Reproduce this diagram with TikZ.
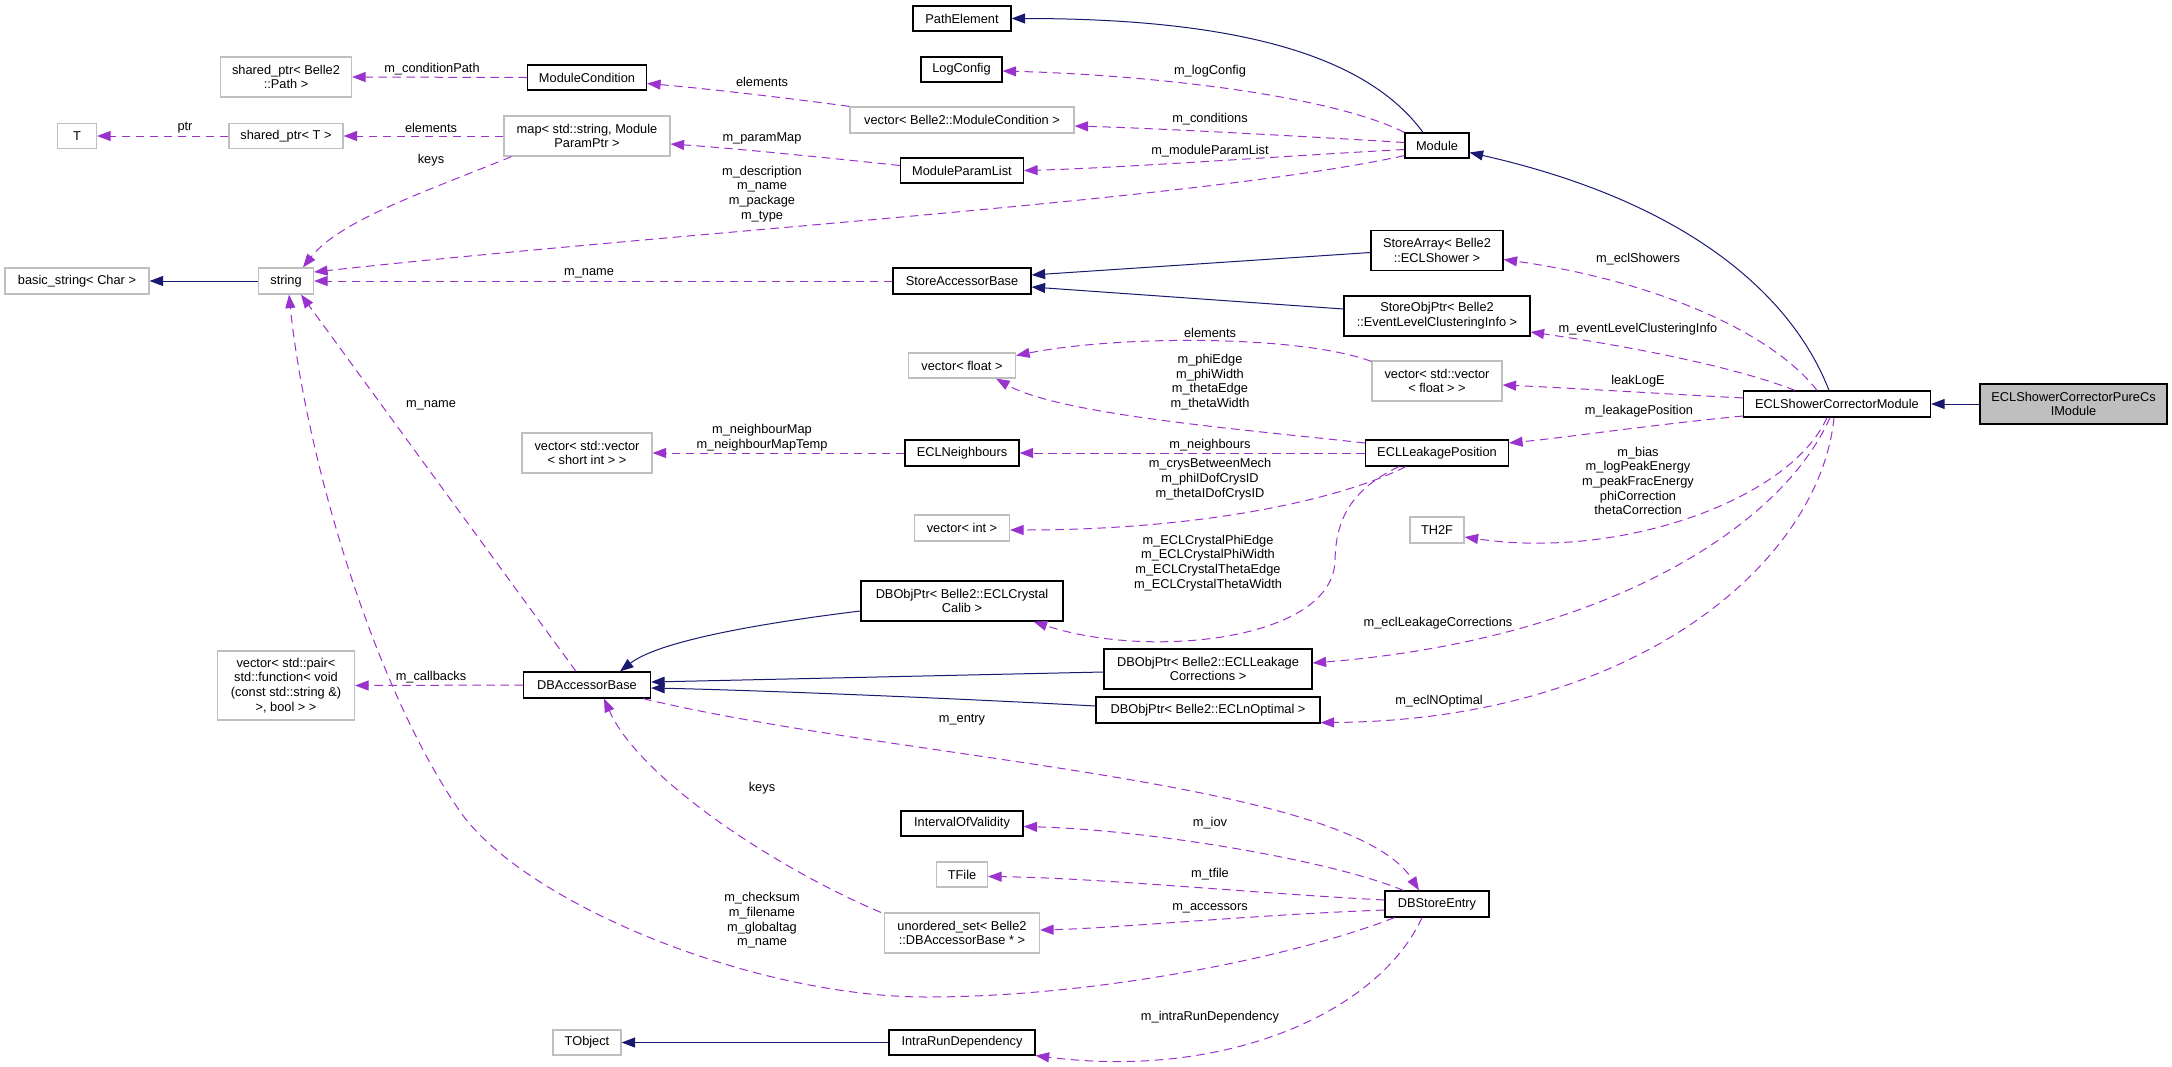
\documentclass[tikz,border=0pt]{standalone}
\usepackage{fontspec}
\setmainfont{Liberation Sans}
\usetikzlibrary{arrows.meta,calc}
\definecolor{usecol}{HTML}{9A32CD}
\definecolor{inhcol}{HTML}{191970}
\definecolor{gbord}{HTML}{BFBFBF}
\begin{document}
\begin{tikzpicture}[x=1pt,y=-1pt,
  every node/.style={font=\fontsize{12.8}{14.7}\selectfont, inner sep=0pt, align=center},
  cls/.style={draw=black, fill=white, line width=1.2pt, minimum height=25pt},
  ext/.style={draw=gbord, fill=white, line width=1.2pt, minimum height=25pt},
  mainc/.style={draw=black, fill=gbord, line width=1.2pt},
  use/.style={draw=usecol, line width=1pt, dash pattern=on 8.5pt off 5.5pt, -{Triangle[length=13.5pt,width=10pt]}},
  inh/.style={draw=inhcol, line width=1pt, -{Triangle[length=13.5pt,width=10pt]}}]
\fill[white] (0,0) rectangle (2172,1066);
\useasboundingbox (0,0) rectangle (2172,1066);

% ---------- nodes ----------
\node[cls, minimum width=98pt] (pe) at (962,18.5) {PathElement};
\node[cls, minimum width=81pt] (lc) at (961.5,69.5) {LogConfig};
\node[ext, minimum width=224pt, minimum height=26pt] (vmc) at (962,120) {vector< Belle2::ModuleCondition >};
\node[cls, minimum width=123pt] (mpl) at (962,170.5) {ModuleParamList};
\node[cls, minimum width=64pt] (mod) at (1437,145.5) {Module};
\node[ext, minimum width=131pt, minimum height=40pt] (spp) at (286,77) {shared\_ptr< Belle2\\::Path >};
\node[cls, minimum width=119pt] (mc) at (587,77.5) {ModuleCondition};
\node[ext, minimum width=39pt] (tt) at (77,136) {T};
\node[ext, minimum width=114pt] (spt) at (286,136) {shared\_ptr< T >};
\node[ext, minimum width=166pt, minimum height=40pt] (map) at (587,136) {map< std::string, Module\\ParamPtr >};
\node[ext, minimum width=144pt, minimum height=26pt] (bstr) at (77,281) {basic\_string< Char >};
\node[ext, minimum width=55pt, minimum height=26pt] (str) at (286,281) {string};
\node[cls, minimum width=138pt, minimum height=26pt] (sab) at (962,281) {StoreAccessorBase};
\node[cls, minimum width=132pt, minimum height=40pt] (sa) at (1437,250.5) {StoreArray< Belle2\\::ECLShower >};
\node[cls, minimum width=186pt, minimum height=40pt] (sop) at (1437,316) {StoreObjPtr< Belle2\\::EventLevelClusteringInfo >};
\node[ext, minimum width=107pt] (vf) at (962,365.5) {vector< float >};
\node[ext, minimum width=130pt, minimum height=40pt] (vvf) at (1437,381) {vector< std::vector\\< float > >};
\node[cls, minimum width=114pt, minimum height=26pt] (ecln) at (962,453) {ECLNeighbours};
\node[ext, minimum width=130pt, minimum height=40pt] (vvs) at (587,453) {vector< std::vector\\< short int > >};
\node[cls, minimum width=143pt, minimum height=26pt] (elp) at (1437,453) {ECLLeakagePosition};
\node[ext, minimum width=95pt, minimum height=26pt] (vi) at (962,528) {vector< int >};
\node[ext, minimum width=54pt, minimum height=26pt] (th) at (1437,530) {TH2F};
\node[cls, minimum width=187pt, minimum height=26pt] (escm) at (1837,404) {ECLShowerCorrectorModule};
\node[mainc, minimum width=187pt, minimum height=40pt] (pure) at (2073.5,404) {ECLShowerCorrectorPureCs\\IModule};
\node[cls, minimum width=202pt, minimum height=40pt] (dbcc) at (962,601) {DBObjPtr< Belle2::ECLCrystal\\Calib >};
\node[cls, minimum width=208pt, minimum height=40pt] (dblc) at (1208,669) {DBObjPtr< Belle2::ECLLeakage\\Corrections >};
\node[cls, minimum width=224pt, minimum height=26pt] (dbno) at (1208,710) {DBObjPtr< Belle2::ECLnOptimal >};
\node[cls, minimum width=127pt, minimum height=26pt] (dba) at (587,685) {DBAccessorBase};
\node[ext, minimum width=137pt, minimum height=69pt] (vpair) at (286,685.5) {vector< std::pair<\\std::function< void\\(const std::string \&)\\>, bool > >};
\node[cls, minimum width=122pt] (iov) at (962,823.5) {IntervalOfValidity};
\node[ext, minimum width=51pt] (tfile) at (962,874.5) {TFile};
\node[ext, minimum width=155pt, minimum height=40pt] (uset) at (962,933) {unordered\_set< Belle2\\::DBAccessorBase * >};
\node[cls, minimum width=104pt, minimum height=26pt] (dbse) at (1437,904) {DBStoreEntry};
\node[ext, minimum width=68pt] (tobj) at (587,1042.5) {TObject};
\node[cls, minimum width=146pt] (ird) at (962,1042.5) {IntraRunDependency};

% ---------- inheritance ----------
\draw[inh] (pure.west) -- (escm.east);
\draw[inh] ($(escm.north)+(-8,0)$) .. controls (1790,290) and (1680,200) .. ($(mod.east)+(0,7)$);
\draw[inh] ($(mod.north)+(-14,0)$) .. controls (1370,60) and (1250,18.5) .. (pe.east);
\draw[inh] (str.west) -- (bstr.east);
\draw[inh] ($(sa.west)+(0,2)$) -- ($(sab.east)+(0,-6)$);
\draw[inh] ($(sop.west)+(0,-7)$) -- ($(sab.east)+(0,6)$);
\draw[inh] ($(dbcc.west)+(0,10)$) .. controls (770,622) and (660,640) .. ($(dba.north)+(33,0)$);
\draw[inh] ($(dblc.west)+(0,3)$) -- ($(dba.east)+(0,-3)$);
\draw[inh] ($(dbno.west)+(0,-4)$) .. controls (950,698) and (750,690) .. ($(dba.east)+(0,3)$);
\draw[inh] (ird.west) -- (tobj.east);

% ---------- usage ----------
\draw[use] (mod.north west) .. controls (1330,95) and (1150,75) .. ($(lc.east)+(0,1.5)$);
\draw[use] ($(mod.west)+(0,-3)$) .. controls (1300,136) and (1150,128) .. ($(vmc.east)+(0,6)$);
\draw[use] ($(mod.west)+(0,4)$) .. controls (1300,155) and (1120,168) .. (mpl.east);
\draw[use] ($(mod.south west)+(0,-3)$) .. controls (1200,200) and (700,230) .. ($(str.east)+(0,-9)$);
\draw[use] (vmc.north west) .. controls (780,97) and (700,88) .. ($(mc.east)+(0,6)$);
\draw[use] (mc.west) -- (spp.east);
\draw[use] ($(mpl.west)+(0,-5)$) .. controls (820,157) and (730,148) .. ($(map.east)+(0,8)$);
\draw[use] (map.west) -- (spt.east);
\draw[use] (spt.west) -- (tt.east);
\draw[use] ($(map.south west)+(8,0)$) .. controls (430,190) and (340,220) .. ($(str.north)+(17,0)$);
\draw[use] (sab.west) -- (str.east);
\draw[use] ($(escm.north)+(-20,0)$) .. controls (1770,330) and (1650,280) .. ($(sa.east)+(0,9)$);
\draw[use] ($(escm.north)+(-42,0)$) .. controls (1730,365) and (1620,345) .. ($(sop.east)+(0,16)$);
\draw[use] ($(escm.west)+(0,-6)$) .. controls (1650,393) and (1570,388) .. ($(vvf.east)+(0,4)$);
\draw[use] ($(escm.west)+(0,12)$) .. controls (1650,425) and (1570,437) .. ($(elp.east)+(0,-10)$);
\draw[use] ($(escm.south)+(-10,0)$) .. controls (1790,500) and (1620,560) .. ($(th.east)+(0,7)$);
\draw[use] ($(escm.south)+(-7,0)$) .. controls (1780,530) and (1600,640) .. ($(dblc.east)+(0,-6)$);
\draw[use] ($(escm.south)+(-3,0)$) .. controls (1820,560) and (1640,720) .. ($(dbno.south east)+(0,-1)$);
\draw[use] ($(vvf.north west)+(0,1)$) .. controls (1300,335) and (1120,335) .. ($(vf.east)+(0,-10)$);
\draw[use] ($(elp.west)+(0,-10)$) .. controls (1250,430) and (1060,415) .. ($(vf.south east)+(-20,0)$);
\draw[use] (elp.west) -- (ecln.east);
\draw[use] (ecln.west) -- (vvs.east);
\draw[use] ($(elp.south west)+(41,0)$) .. controls (1340,500) and (1200,530) .. ($(vi.east)+(0,2)$);
\draw[use] ($(elp.south west)+(34,0)$) .. controls (1350,490) and (1336,520) .. (1335,560) .. controls (1334,640) and (1150,660) .. ($(dbcc.south east)+(-30,0)$);
\draw[use] (dba.west) -- (vpair.east);
\draw[use] ($(dba.north)+(-11,0)$) -- ($(str.south)+(15,0)$);
\draw[use] ($(dba.south east)+(-8,0)$) .. controls (900,760) and (1350,780) .. ($(dbse.north)+(-18,0)$);
\draw[use] ($(dbse.north west)+(19,0)$) .. controls (1330,860) and (1150,830) .. ($(iov.east)+(0,3)$);
\draw[use] ($(dbse.west)+(0,-4)$) .. controls (1250,893) and (1100,878) .. ($(tfile.east)+(0,2)$);
\draw[use] ($(dbse.west)+(0,6)$) .. controls (1250,915) and (1120,928) .. ($(uset.east)+(0,-3)$);
\draw[use] ($(dbse.south west)+(10,0)$) .. controls (1300,955) and (1100,997) .. (927,997) .. controls (750,997) and (521,901) .. (459,810) .. controls (370,680) and (305,450) .. ($(str.south)+(3,0)$);
\draw[use] ($(uset.north west)+(-3,0)$) .. controls (780,870) and (640,780) .. ($(dba.south)+(17,0)$);
\draw[use] ($(dbse.south)+(-15,0)$) .. controls (1380,1010) and (1230,1080) .. (ird.south east);

% ---------- labels ----------
\node (l1) at (432,69) {m\_conditionPath};
\node (l2) at (431,128) {elements};
\node (l3) at (185,128) {ptr};
\node (l4) at (431,160) {keys};
\node (l5) at (589,273) {m\_name};
\node (l6) at (1210,71) {m\_logConfig};
\node (l7) at (1210,119) {m\_conditions};
\node (l8) at (1210,151) {m\_moduleParamList};
\node (l9) at (762,82) {elements};
\node (l10) at (762,138) {m\_paramMap};
\node (l11) at (762,194) {m\_description\\m\_name\\m\_package\\m\_type};
\node (l12) at (1210,333) {elements};
\node (l13) at (1638,259) {m\_eclShowers};
\node (l14) at (1638,329) {m\_eventLevelClusteringInfo};
\node (l15) at (1210,382) {m\_phiEdge\\m\_phiWidth\\m\_thetaEdge\\m\_thetaWidth};
\node (l16) at (1210,445) {m\_neighbours};
\node (l17) at (1210,479) {m\_crysBetweenMech\\m\_phiIDofCrysID\\m\_thetaIDofCrysID};
\node (l18) at (1208,563) {m\_ECLCrystalPhiEdge\\m\_ECLCrystalPhiWidth\\m\_ECLCrystalThetaEdge\\m\_ECLCrystalThetaWidth};
\node (l19) at (762,437.5) {m\_neighbourMap\\m\_neighbourMapTemp};
\node (l20) at (1638,381) {leakLogE};
\node (l21) at (1639,411) {m\_leakagePosition};
\node (l22) at (1638,481) {m\_bias\\m\_logPeakEnergy\\m\_peakFracEnergy\\phiCorrection\\thetaCorrection};
\node (l23) at (1438,623) {m\_eclLeakageCorrections};
\node (l24) at (1439,701) {m\_eclNOptimal};
\node (l25) at (431,405) {m\_name};
\node (l26) at (431,677) {m\_callbacks};
\node (l27) at (962,720) {m\_entry};
\node (l28) at (762,788) {keys};
\node (l29) at (1210,823) {m\_iov};
\node (l30) at (1210,874) {m\_tfile};
\node (l31) at (1210,908) {m\_accessors};
\node (l32) at (762,920.5) {m\_checksum\\m\_filename\\m\_globaltag\\m\_name};
\node (l33) at (1210,1017) {m\_intraRunDependency};
\end{tikzpicture}
\end{document}
